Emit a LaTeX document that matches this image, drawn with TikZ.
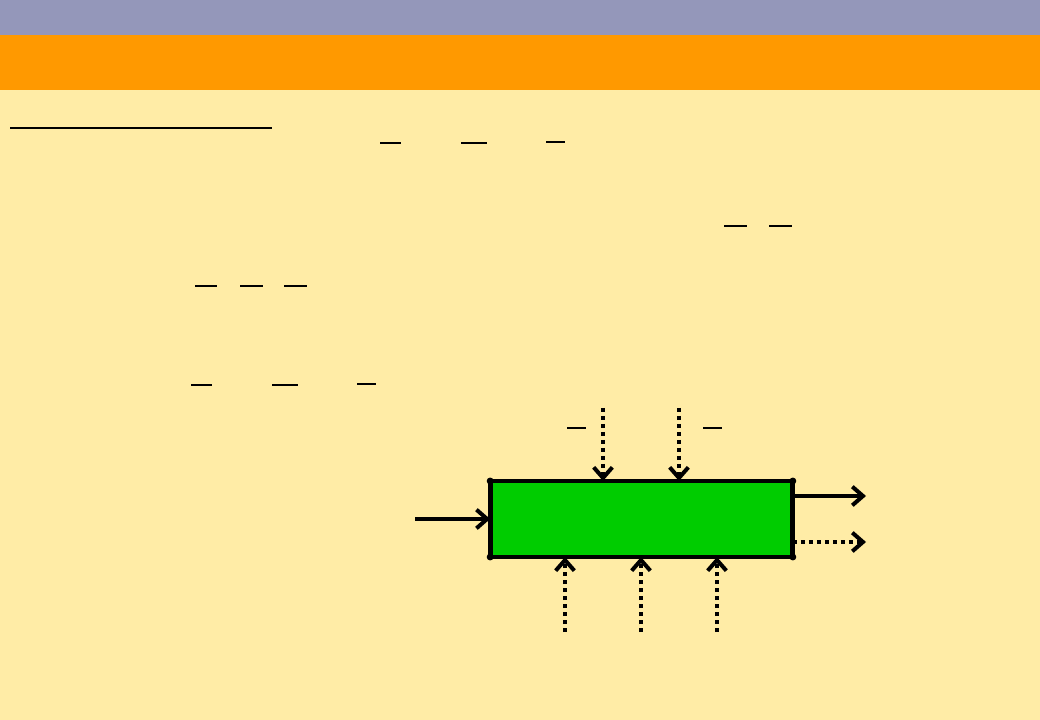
\documentclass[tikz,border=0pt]{standalone}
\usetikzlibrary{arrows.meta}
\definecolor{topband}{HTML}{9497BA}
\definecolor{orangeband}{HTML}{FF9900}
\definecolor{paper}{HTML}{FFECA6}
\definecolor{boxgreen}{HTML}{00CC00}
\tikzset{
  bar/.style={line width=1.9pt},
  thinbar/.style={line width=1pt},
  flow/.style={line width=3.6pt,-{Straight Barb[length=8pt,width=14pt,line width=3pt]}},
  dotflow/.style={flow,dash pattern=on 3pt off 3pt},
  process/.style={draw=black,line width=3.6pt,fill=boxgreen,minimum width=227pt,minimum height=57pt,inner sep=0pt,outer sep=0pt}
}
\begin{document}
\begin{tikzpicture}[x=0.75pt,y=-0.75pt]
\useasboundingbox (0,0) rectangle (1040,720);
\fill[paper] (0,0) rectangle (1040,720);
\fill[topband] (0,0) rectangle (1040,35);
\fill[orangeband] (0,35) rectangle (1040,90);
% underline
\draw[bar] (10,128) -- (272,128);
% fraction bars
\draw[bar] (380,143) -- (401,143);
\draw[bar] (461,143) -- (487,143);
\draw[bar] (546,142) -- (565,142);
\draw[bar] (724,226) -- (747,226);
\draw[bar] (769,226) -- (792,226);
\draw[bar] (195,286) -- (217,286);
\draw[bar] (240,286) -- (263,286);
\draw[bar] (284,286) -- (307,286);
\draw[bar] (191,385) -- (212,385);
\draw[bar] (272,385) -- (298,385);
\draw[bar] (357,384) -- (376,384);
\draw[thinbar] (567,428) -- (586,428);
\draw[thinbar] (703,428) -- (722,428);
% process box
\node[process] (box) at (641.5,519) {};
\foreach \c in {north west,north east,south west,south east}
  \fill (box.\c) circle (2.6pt);
% connector ends
\coordinate (inL) at (415,519);
\coordinate (inT1) at (603,408);
\coordinate (inT2) at (679,408);
\coordinate (outR1) at (866,496);
\coordinate (outR2) at (866,542);
\coordinate (inB1) at (565,632);
\coordinate (inB2) at (641,632);
\coordinate (inB3) at (717,632);
\draw[flow] (inL) -- (box.west);
\draw[dotflow] (inT1) -- (inT1 |- box.north);
\draw[dotflow] (inT2) -- (inT2 |- box.north);
\draw[flow] (box.east |- outR1) -- (outR1);
\draw[dotflow] (box.east |- outR2) -- (outR2);
\draw[dotflow] (inB1) -- (inB1 |- box.south);
\draw[dotflow] (inB2) -- (inB2 |- box.south);
\draw[dotflow] (inB3) -- (inB3 |- box.south);
\end{tikzpicture}
\end{document}
